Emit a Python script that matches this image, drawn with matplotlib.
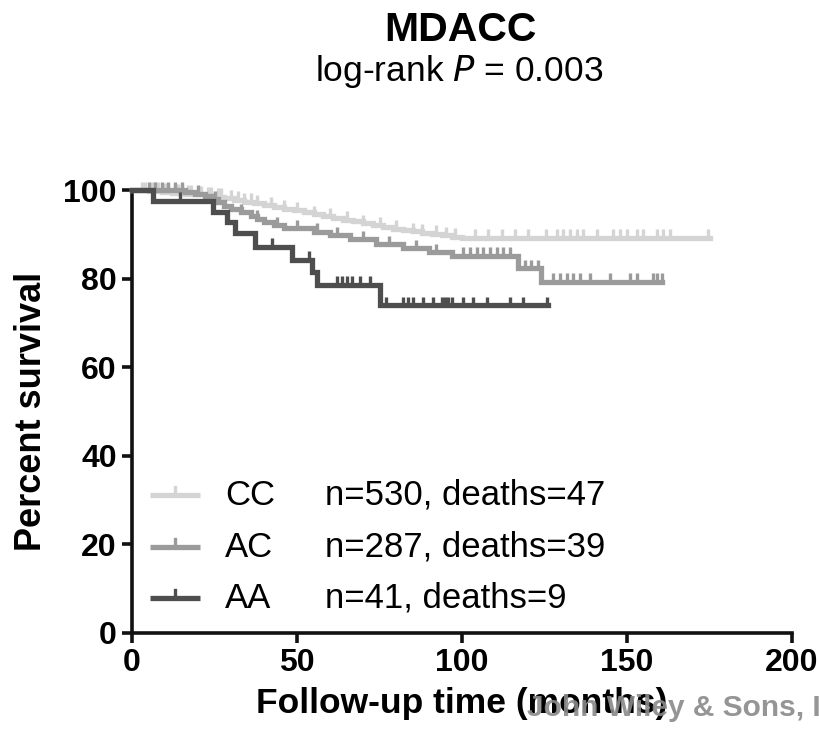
import matplotlib
matplotlib.use("Agg")
import matplotlib.pyplot as plt
import numpy as np

plt.rcParams['font.family'] = ['Liberation Sans', 'DejaVu Sans']

# ---- data ----
groups = ["CC", "AC", "AA"]
group_text = ["n=530, deaths=47", "n=287, deaths=39", "n=41, deaths=9"]
colors = ["#d4d4d4", "#9b9b9b", "#4e4e4e"]

cc_time = [0, 5, 9, 12, 16, 19, 22, 25, 28, 31, 34, 37, 40, 43, 46, 49, 52, 55, 58,
           61, 64, 67, 70, 73, 76, 79, 82, 85, 88, 91, 94, 97, 100]
cc_surv = [100, 99.8, 99.6, 99.4, 99.2, 99.0, 98.8, 98.5, 98.2, 97.8, 97.4, 97.0, 96.6,
           96.2, 95.8, 95.4, 95.0, 94.6, 94.1, 93.7, 93.3, 92.9, 92.5, 92.1, 91.7, 91.3,
           91.0, 90.7, 90.4, 90.1, 89.8, 89.5, 89.2]
cc_end = 175
cc_cens = [3, 4, 6, 7, 8, 10, 11, 13, 14, 15, 17, 18, 20, 21, 23, 24, 26, 27, 30, 32,
           34, 36, 38, 42, 46, 50, 55, 60, 65, 70, 75, 80, 85, 88, 92, 95, 98, 104, 108,
           112, 116, 120, 125.6, 128.7, 130.7, 132.7, 134.8, 136.8, 140.8, 145.9, 147.9,
           149.9, 152.9, 154.9, 159, 161, 163, 174.6]

ac_time = [0, 16, 19, 22, 24, 26, 28, 30, 33, 36, 38, 40, 43, 46, 55, 60, 66, 74, 82,
           90, 97, 117, 124]
ac_surv = [100, 99.6, 99.2, 98.6, 97.9, 97.2, 96.5, 95.8, 95.0, 94.2, 93.5, 92.8, 92.0,
           91.4, 90.6, 89.8, 88.9, 87.8, 86.8, 86.0, 85.2, 82.4, 79.3]
ac_end = 160.5
ac_cens = [5, 7, 9, 11, 13, 15, 20, 25, 33, 38, 44, 50, 56, 62, 70, 78, 86, 92, 100.4,
           102.4, 104.5, 106.5, 108.5, 110.5, 112.5, 114.5, 119, 121, 123, 127.7, 129.7,
           131.7, 133.7, 135.8, 138.8, 144.8, 150.9, 152.9, 158, 159, 160.5]

aa_time = [0, 6.4, 24.6, 28.7, 31.2, 37.3, 48.4, 54.4, 56.0, 75.2]
aa_surv = [100, 97.6, 95.1, 92.7, 90.2, 87.2, 84.3, 81.4, 78.6, 74.0]
aa_end = 126.2
aa_cens = [14.5, 42.3, 53.5, 62, 63.5, 65, 66.6, 69, 72, 77, 82.2, 83.7, 85.2, 88.3,
           91.3, 93.8, 94.8, 95.9, 96.9, 100.4, 103.4, 107.5, 114.5, 118.6, 125.7]

series = [(cc_time, cc_surv, cc_end, cc_cens),
          (ac_time, ac_surv, ac_end, ac_cens),
          (aa_time, aa_surv, aa_end, aa_cens)]

# ---- figure ----
fig = plt.figure(figsize=(8.19, 7.38), dpi=100)
ax = fig.add_axes([132/819, 1-633/738, 660/819, 443/738])

lw = 3.8
tick_h = 1.9
for (t, s, tend, cens), col in zip(series, colors):
    tt = list(t) + [tend]
    ss = list(s) + [s[-1]]
    ax.step(tt, ss, where='post', color=col, lw=lw, clip_on=False,
            solid_joinstyle='miter', zorder=3)
    t_arr = np.array(t, dtype=float)
    s_arr = np.array(s, dtype=float)
    c_arr = np.array(cens, dtype=float)
    idx = np.searchsorted(t_arr, c_arr, side='right') - 1
    lev = s_arr[idx]
    ax.vlines(c_arr, lev, lev + tick_h, color=col, lw=2.4, clip_on=False, zorder=3)

ax.set_xlim(0, 200)
ax.set_ylim(0, 100)
ax.set_xticks([0, 50, 100, 150, 200])
ax.set_yticks([0, 20, 40, 60, 80, 100])
for sp in ['top', 'right']:
    ax.spines[sp].set_visible(False)
for sp in ['left', 'bottom']:
    ax.spines[sp].set_linewidth(2.6)
    ax.spines[sp].set_color('#111111')
ax.tick_params(axis='both', direction='out', length=7, width=2.6, color='#111111',
               labelsize=23, pad=4)
for lab in ax.get_xticklabels() + ax.get_yticklabels():
    lab.set_fontweight('bold')

ax.set_xlabel("Follow-up time (months)", fontsize=25.5, fontweight='bold', labelpad=6)
ax.set_ylabel("Percent survival", fontsize=26, fontweight='bold', labelpad=10)

# legend (drawn in axes fraction)
rows_y = [0.3115, 0.194, 0.079]
for yv, col, g, txt in zip(rows_y, colors, groups, group_text):
    ax.plot([0.027, 0.103], [yv, yv], transform=ax.transAxes, color=col, lw=lw,
            clip_on=False, solid_capstyle='butt')
    ax.plot([0.065, 0.065], [yv, yv + 0.018], transform=ax.transAxes, color=col,
            lw=2.4, clip_on=False)
    ax.text(0.141, yv, g, transform=ax.transAxes, fontsize=25, va='center', ha='left')
    ax.text(0.292, yv, txt, transform=ax.transAxes, fontsize=25, va='center', ha='left')

fig.text(460/819, 1-30/738, "MDACC", fontsize=29.5, fontweight='bold',
         ha='center', va='center')
fig.text(459/819, 1-72/738, "log-rank $\\mathit{P}$ = 0.003", fontsize=25.5,
         ha='center', va='center')

fig.text(527/819, 1-708/738, "John Wiley & Sons, Inc.", fontsize=21.5, fontweight='bold',
         color='#8a8a8a', ha='left', va='center', alpha=0.9)

fig.savefig("out.png", dpi=100, facecolor='white')
